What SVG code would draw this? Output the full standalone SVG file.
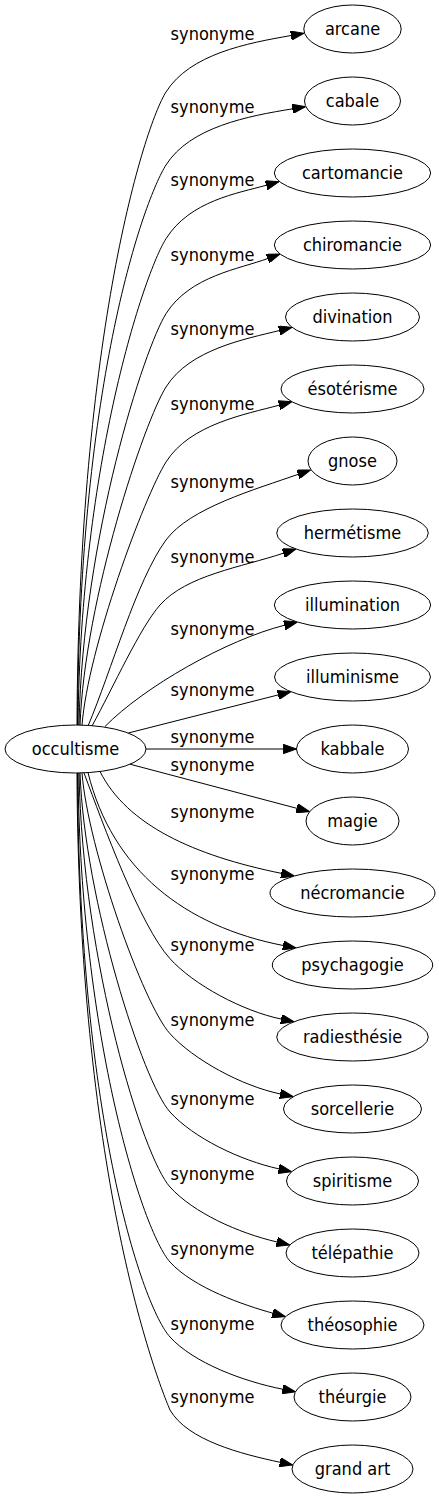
<svg xmlns="http://www.w3.org/2000/svg" width="439" height="1499" viewBox="0 0 439 1499">
<style>
text{font-family:"DejaVu Sans Condensed","DejaVu Sans",sans-serif;font-size:18px;fill:#000;text-anchor:middle}
ellipse{fill:#fff;stroke:#000;stroke-width:1}
.e path{fill:none;stroke:#000;stroke-width:1;marker-end:url(#arr)}
</style>
<defs>
<marker id="arr" viewBox="0 0 13.3 9.4" refX="13.3" refY="4.7" markerWidth="13.3" markerHeight="9.4" markerUnits="userSpaceOnUse" orient="auto">
<path d="M0,0 L13.3,4.7 L0,9.4 z" fill="#000" stroke="#000" stroke-width="1"/>
</marker>
</defs>
<rect width="439" height="1499" fill="#fff"/>
<g id="connectors" class="e">
<g id="e-arcane"><path d="M77,725 C78.5,333 144.6,125.8 166,92 C190,54 246.9,43.2 291.2,35.5 L304,33.3"/><text x="212.5" y="39.5">synonyme</text></g>
<g id="e-cabale"><path d="M77.5,725 C79,378 144.6,198.8 166,165 C190,127 248.3,116 292.7,108.8 L305.5,106.7"/><text x="212.5" y="112.5">synonyme</text></g>
<g id="e-cartomancie"><path d="M78,725 C80.6,462 144.6,272.5 166,238.7 C190,200.7 237.6,193.3 266.5,185.2 L279,181.7"/><text x="212.5" y="186.2">synonyme</text></g>
<g id="e-chiromancie"><path d="M79,725 C82.7,537 144.6,347.5 166,313.7 C190,275.7 239.7,269 267.8,258.5 L280,254"/><text x="212.5" y="261.2">synonyme</text></g>
<g id="e-divination"><path d="M80,725.5 C84.7,598.5 144.6,420.8 166,387 C190,349 245.5,339.1 279.4,330.5 L292,327.3"/><text x="212.5" y="334.5">synonyme</text></g>
<g id="e-esoterisme"><path d="M82,725.5 C87.8,648.5 144.6,495.8 166,462 C190,424 245.6,414.3 279.4,405.1 L291.9,401.7"/><text x="212.5" y="409.5">synonyme</text></g>
<g id="e-gnose"><path d="M88,726 C111.4,670.8 136.4,580.3 166,540 C189.7,507.8 255.8,489.3 298.2,474.3 L310.5,470"/><text x="212.5" y="487.5">synonyme</text></g>
<g id="e-hermetisme"><path d="M92,726 C113.6,686.5 140,627.6 160,605 C186.6,575.1 241,567.3 283.7,553.1 L296,549"/><text x="212.5" y="562.5">synonyme</text></g>
<g id="e-illumination"><path d="M105,726.5 C143.5,687.2 226.5,639.8 284.7,625.2 L297.3,622"/><text x="212.5" y="634.5">synonyme</text></g>
<g id="e-illuminisme"><path d="M128.3,733 L290.9,691.7"/><text x="212.5" y="696.2">synonyme</text></g>
<g id="e-kabbale"><path d="M146,749 L296.5,749"/><text x="212.5" y="742.5">synonyme</text></g>
<g id="e-magie"><path d="M130,764.2 L309.6,811.7"/><text x="212.5" y="771.2">synonyme</text></g>
<g id="e-necromancie"><path d="M100,771.5 C127,825 193.4,855.4 281.6,873.4 L294.3,876"/><text x="212.5" y="817.5">synonyme</text></g>
<g id="e-psychagogie"><path d="M88,772.6 C112,870 185,926.4 283.2,945.5 L296,948"/><text x="212.5" y="879.5">synonyme</text></g>
<g id="e-radiesthesie"><path d="M84,773 C103.3,824.7 139.9,925.4 170,958.7 C193.5,984.6 242.2,1011 281.4,1019.1 L294.1,1021.7"/><text x="212.5" y="951.2">synonyme</text></g>
<g id="e-sorcellerie"><path d="M82,773 C87.9,848.5 143.2,1004.1 170,1033.7 C193.5,1059.6 241.3,1085.8 280.5,1094 L293.2,1096.7"/><text x="212.5" y="1026.2">synonyme</text></g>
<g id="e-spiritisme"><path d="M80,773 C84.7,900.7 143.2,1082.4 170,1112 C193.5,1137.9 240,1160.3 279,1168.9 L291.7,1171.7"/><text x="212.5" y="1104.5">synonyme</text></g>
<g id="e-telepathie"><path d="M79,773 C82.6,963.4 143.2,1157.4 170,1187 C193.5,1212.9 238.1,1232.9 277.1,1242 L289.8,1245"/><text x="212.5" y="1179.5">synonyme</text></g>
<g id="e-theosophie"><path d="M78,773 C80.5,1038.7 143.2,1232.4 170,1262 C193.5,1287.9 243.9,1305.2 272.9,1313.2 L285.4,1316.7"/><text x="212.5" y="1254.5">synonyme</text></g>
<g id="e-theurgie"><path d="M77.5,773 C79,1123 143.2,1307.4 170,1337 C193.5,1362.9 243.5,1381.5 282.7,1389.2 L295.5,1391.7"/><text x="212.5" y="1329.5">synonyme</text></g>
<g id="e-grandart"><path d="M77,773 C78.5,1168 153,1370 170,1410 C187.5,1440.3 241,1453.9 280.1,1462.3 L292.8,1465"/><text x="212.5" y="1402.5">synonyme</text></g>
</g>
<g id="n-occultisme"><ellipse cx="75.5" cy="749" rx="70.5" ry="24"/><text x="75.5" y="755">occultisme</text></g>
<g id="n-arcane"><ellipse cx="352.5" cy="29" rx="48.7" ry="24"/><text x="352.5" y="35">arcane</text></g>
<g id="n-cabale"><ellipse cx="352.5" cy="101" rx="48" ry="24"/><text x="352.5" y="107">cabale</text></g>
<g id="n-cartomancie"><ellipse cx="352.5" cy="173" rx="78.2" ry="24"/><text x="352.5" y="179">cartomancie</text></g>
<g id="n-chiromancie"><ellipse cx="352.5" cy="245" rx="78.2" ry="24"/><text x="352.5" y="251">chiromancie</text></g>
<g id="n-divination"><ellipse cx="352.5" cy="317" rx="67" ry="24"/><text x="352.5" y="323">divination</text></g>
<g id="n-esoterisme"><ellipse cx="352.5" cy="389" rx="71.5" ry="24"/><text x="352.5" y="395">ésotérisme</text></g>
<g id="n-gnose"><ellipse cx="352.5" cy="461" rx="44.5" ry="24"/><text x="352.5" y="467">gnose</text></g>
<g id="n-hermetisme"><ellipse cx="352.5" cy="533" rx="75.8" ry="24"/><text x="352.5" y="539">hermétisme</text></g>
<g id="n-illumination"><ellipse cx="352.5" cy="605" rx="78.2" ry="24"/><text x="352.5" y="611">illumination</text></g>
<g id="n-illuminisme"><ellipse cx="352.5" cy="677" rx="78" ry="24"/><text x="352.5" y="683">illuminisme</text></g>
<g id="n-kabbale"><ellipse cx="352.5" cy="749" rx="56" ry="24"/><text x="352.5" y="755">kabbale</text></g>
<g id="n-magie"><ellipse cx="352.5" cy="821" rx="46.5" ry="24"/><text x="352.5" y="827">magie</text></g>
<g id="n-necromancie"><ellipse cx="352.5" cy="893" rx="82.5" ry="24"/><text x="352.5" y="899">nécromancie</text></g>
<g id="n-psychagogie"><ellipse cx="352.5" cy="965" rx="80.2" ry="24"/><text x="352.5" y="971">psychagogie</text></g>
<g id="n-radiesthesie"><ellipse cx="352.5" cy="1037" rx="75.8" ry="24"/><text x="352.5" y="1043">radiesthésie</text></g>
<g id="n-sorcellerie"><ellipse cx="352.5" cy="1109" rx="69" ry="24"/><text x="352.5" y="1115">sorcellerie</text></g>
<g id="n-spiritisme"><ellipse cx="352.5" cy="1181" rx="66" ry="24"/><text x="352.5" y="1187">spiritisme</text></g>
<g id="n-telepathie"><ellipse cx="352.5" cy="1253" rx="66.5" ry="24"/><text x="352.5" y="1259">télépathie</text></g>
<g id="n-theosophie"><ellipse cx="352.5" cy="1325" rx="71.5" ry="24"/><text x="352.5" y="1331">théosophie</text></g>
<g id="n-theurgie"><ellipse cx="352.5" cy="1397" rx="58.5" ry="24"/><text x="352.5" y="1403">théurgie</text></g>
<g id="n-grandart"><ellipse cx="352.5" cy="1469" rx="60.5" ry="24"/><text x="352.5" y="1475">grand art</text></g>
</svg>
